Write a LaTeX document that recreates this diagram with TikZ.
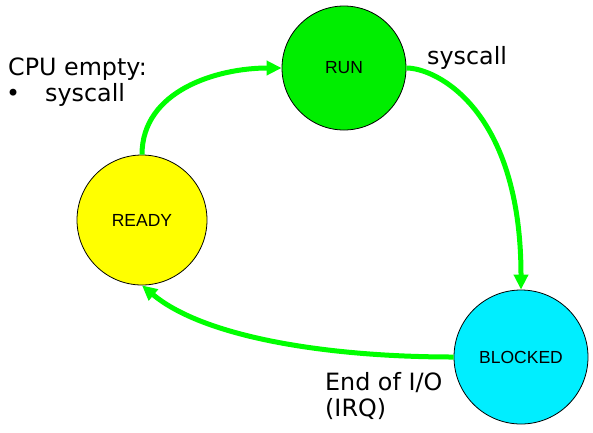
\documentclass[tikz,border=0pt]{standalone}
\usepackage{fontspec}
\setmainfont{DejaVu Sans}
\newfontfamily\statefont{Liberation Sans}
\usetikzlibrary{arrows.meta}
\definecolor{runcol}{RGB}{0,238,0}
\definecolor{arrowcol}{RGB}{0,255,0}
\definecolor{readycol}{RGB}{255,255,0}
\definecolor{blockedcol}{RGB}{0,238,255}
\tikzset{
  state/.style={circle,draw=black,line width=0.8pt,inner sep=0pt,font=\statefont\fontsize{17.5}{20}\selectfont},
  trans/.style={draw=arrowcol,line width=5pt,-{Triangle[length=15pt,width=14pt]}},
  lbl/.style={anchor=base west,inner sep=0pt,font=\fontsize{23.8}{28}\selectfont}
}
\begin{document}
\begin{tikzpicture}[x=1pt,y=-1pt]
\useasboundingbox (0,0) rectangle (593,432);
\node[state,fill=runcol,minimum size=124pt] (RUN) at (344,68) {RUN};
\node[state,fill=readycol,minimum size=130pt] (READY) at (142,220) {READY};
\node[state,fill=blockedcol,minimum size=134pt] (BLOCKED) at (521,357) {BLOCKED};
\draw[trans] (READY.north) to[out=90,in=180] (RUN.west);
\draw[trans] (RUN.east) .. controls +(30,0) and +(0,-180) .. (BLOCKED.north);
\draw[trans] (BLOCKED.west) .. controls +(-130,0) and +(61,51) .. (READY.south);
\node[lbl] (cpu) at (8,75) {CPU empty:};
\node[lbl] (bullet) at (6,101) {\textbullet};
\node[lbl] (cpusys) at (45,101) {syscall};
\node[lbl] (sys) at (427,64) {syscall};
\node[lbl] (endio) at (325,390) {End of I/O};
\node[lbl] (irq) at (325,416) {(IRQ)};
\end{tikzpicture}
\end{document}
